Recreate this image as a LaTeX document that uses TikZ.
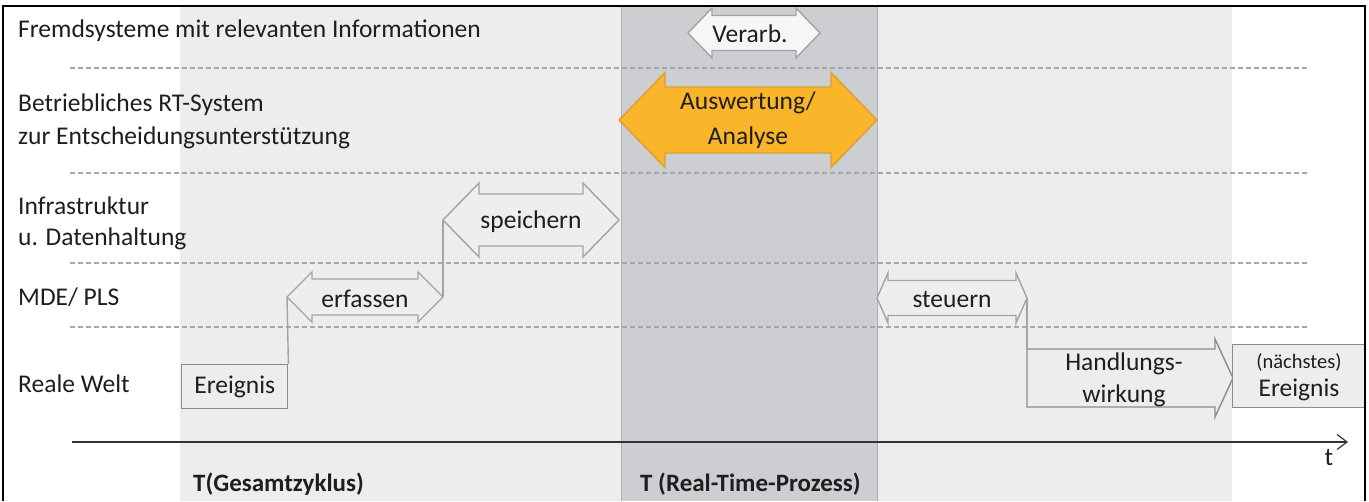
\documentclass[tikz,border=0pt]{standalone}
\usepackage{fontspec}
\setmainfont{Carlito}
\usetikzlibrary{arrows.meta}

\definecolor{bandlight}{HTML}{EDEDED}
\definecolor{banddark}{HTML}{CDCED2}
\definecolor{dashgray}{HTML}{A8A8A8}
\definecolor{arrowline}{HTML}{A3A3A3}
\definecolor{arrowfill}{HTML}{EEEEEE}
\definecolor{orangefill}{HTML}{FBB52A}
\definecolor{orangeline}{HTML}{D9A03A}
\definecolor{txt}{HTML}{1E1E1E}

% double arrow outline: name, left tip x, right tip x, mid y, shaft half, head half, head length, style
\newcommand{\dblarrowpath}[8]{%
  \draw[#8] (#2,#4) -- ({#2+#7},{#4-#6}) -- ({#2+#7},{#4-#5}) -- ({#3-#7},{#4-#5})
    -- ({#3-#7},{#4-#6}) -- (#3,#4) -- ({#3-#7},{#4+#6}) -- ({#3-#7},{#4+#5})
    -- ({#2+#7},{#4+#5}) -- ({#2+#7},{#4+#6}) -- cycle;
  \coordinate (#1-l) at (#2,#4);
  \coordinate (#1-r) at (#3,#4);
}

\begin{document}
\begin{tikzpicture}[x=1pt,y=-1pt,
  lanelabel/.style={anchor=west,text=txt,font=\fontsize{25.5}{28}\selectfont,inner sep=0pt},
  arrowtext/.style={text=txt,font=\fontsize{25.5}{28}\selectfont,inner sep=0pt,align=center},
  boldlabel/.style={anchor=west,text=txt,font=\bfseries\fontsize{25}{28}\selectfont,inner sep=0pt},
  lanesep/.style={draw=dashgray,line width=1.2pt,dash pattern=on 5pt off 3pt},
  greyarrow/.style={draw=arrowline,fill=arrowfill,line width=1.4pt,line join=miter},
  eventbox/.style={draw=arrowline!85!black,fill=bandlight,line width=1.4pt},
  link/.style={draw=arrowline,line width=1.4pt}]

\useasboundingbox (0,0) rectangle (1369,501);

% time bands
\fill[bandlight] (180,6) rectangle (1232,501);
\fill[banddark] (621,6) rectangle (877,501);
\draw[banddark!85!black,line width=0.6pt] (621,6) -- (621,501) (877,6) -- (877,501);

% lane separators
\foreach \yy in {68,173,263,327}
  \draw[lanesep] (70,\yy) -- (1307,\yy);

% lane labels
\node[lanelabel] (l1) at (18,31) {Fremdsysteme mit relevanten Informationen};
\node[lanelabel] (l2a) at (18,105) {Betriebliches RT-System};
\node[lanelabel] (l2b) at (18,138) {zur Entscheidungsunterstützung};
\node[lanelabel] (l3a) at (18,206) {Infrastruktur};
\node[lanelabel] (l3b) at (18,239) {u. Datenhaltung};
\node[lanelabel] (l4) at (18,297) {MDE/ PLS};
\node[lanelabel] (l5) at (18,384) {Reale Welt};

% process arrows
\dblarrowpath{erf}{287}{443}{297}{18}{25}{25}{greyarrow}
\node[arrowtext] (erfassen) at (365,299) {erfassen};

\dblarrowpath{spe}{443}{619}{220}{26}{37}{36}{greyarrow}
\node[arrowtext] (speichern) at (531,222) {speichern};

\dblarrowpath{ver}{688}{820}{33}{17.5}{25}{24}{greyarrow,fill=white!50!arrowfill}
\node[arrowtext] (verarb) at (750,34) {Verarb.};

\dblarrowpath{aus}{619}{877}{120}{33}{47.5}{46}{draw=orangeline,fill=orangefill,line width=1.4pt}
\node[arrowtext,font=\fontsize{25.5}{35}\selectfont] (auswertung) at (748,120) {Auswertung/\\Analyse};

\dblarrowpath{ste}{877}{1027}{298}{17.5}{25}{11}{greyarrow}
\node[arrowtext] (steuern) at (952,300) {steuern};

% single arrow: Handlungswirkung
\draw[draw=arrowline!85!black,fill=bandlight,line width=1.4pt,line join=miter]
  (1027,349) -- (1215,349) -- (1215,339) -- (1233,378) -- (1215,417) -- (1215,407) -- (1027,407) -- cycle;
\coordinate (hw-tail) at (1027,349);
\coordinate (hw-tip) at (1233,378);
\node[arrowtext,font=\fontsize{25.5}{32}\selectfont] (handlung) at (1124,380) {Handlungs-\\wirkung};

% events
\node[eventbox,minimum width=106pt,minimum height=44pt,inner sep=0pt,anchor=north west] (ereignis) at (181,364) {};
\node[arrowtext] at (ereignis.center) {Ereignis};
\node[eventbox,minimum width=132pt,minimum height=63pt,inner sep=0pt,anchor=north west] (naechstes) at (1232,344) {};
\node[arrowtext,font=\fontsize{20.5}{22}\selectfont] (naechstes1) at (1299,362) {(nächstes)};
\node[arrowtext] (naechstes2) at (1299,390) {Ereignis};

% step connectors
\draw[link] (ereignis.north east) -- (erf-l);
\draw[link] (erf-r) -- (spe-l);
\draw[link] (ste-r) -- (hw-tail);

% time axis
\coordinate (ax0) at (72,442);
\coordinate (ax1) at (1348,442);
\draw[line width=1.6pt,draw=black!80,-{Straight Barb[length=10pt,width=15pt,line width=1.2pt]}] (ax0) -- (ax1);
\node[lanelabel,anchor=center] (t) at (1329,458) {t};

% duration labels
\node[boldlabel] (tges) at (193,484) {T(Gesamtzyklus)};
\node[boldlabel] (trt) at (640,484) {T (Real-Time-Prozess)};

% outer frame
\draw[black,line width=2.5pt] (3,501) -- (3,6) -- (1365,6) -- (1365,501);
\end{tikzpicture}
\end{document}
